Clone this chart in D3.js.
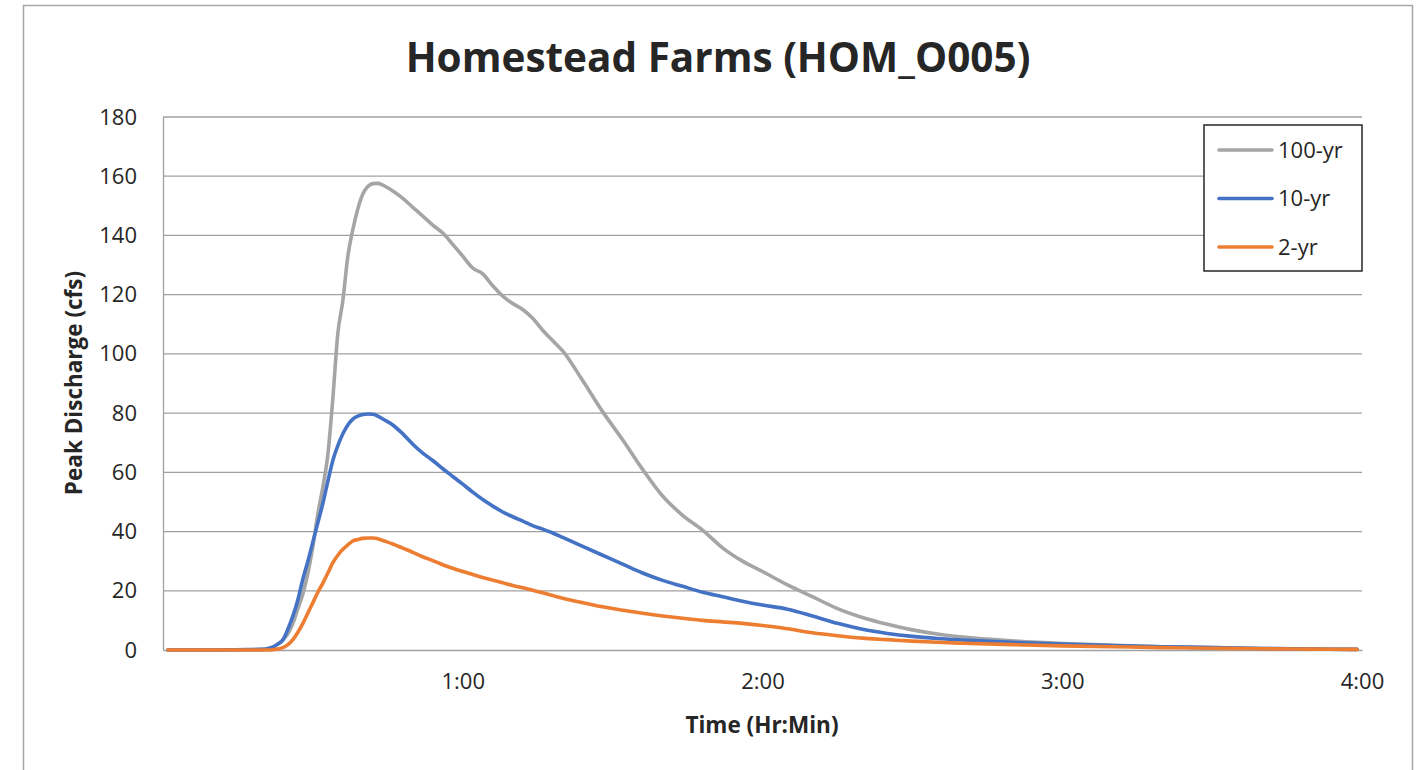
<!DOCTYPE html>
<html><head><meta charset="utf-8">
<script src="https://cdn.jsdelivr.net/npm/d3@7"></script>
<style>
html,body{margin:0;padding:0;background:#fff;}
svg{display:block;font-family:"Open Sans", Lato, sans-serif;}
</style></head>
<body>
<svg id="c" width="1421" height="770"></svg>
<script>
// ---- data (minutes after start) ----
const times = [1,10,20,21,22,23,24,25,26,27,28,29,30,31,32,33,34,35,36,37,38,39,40,41,42,43,44,
  46,48,50,52,54,56,58,60,62,64,66,68,70,72,74,76,78,80,84,88,92,96,100,104,108,112,116,120,
  125,130,135,140,145,150,155,160,170,180,190,200,210,220,230,239];
const yr100 = [0,0,0.2,0.5,1,2,3.5,5.5,9,14,19,26,35,46,55,66,85,107,118,133,142,149,154,156.5,157.5,157.6,157,
  155,152.5,149.5,146.5,143.5,140.8,137,133,129,127,123,119.5,117,115,112,108,104.5,101,91,80.5,71,61,52,45.5,40.5,34.5,30,26.5,
  22,18,14,11,8.7,6.8,5.4,4.4,3.1,2.2,1.6,1.1,0.8,0.5,0.3,0.2];
const yr10 = [0,0,0.2,0.5,1,2,3.4,7,11.5,17,24,30,36.5,43,49.5,57,64,69,73,76,78,79,79.5,79.7,79.6,79,78,
  76,73,69.5,66.5,64,61.2,58.6,56,53.3,50.8,48.6,46.6,45,43.5,42,40.8,39.5,38,35,32,29,26,23.5,21.5,19.5,18,16.5,15.2,
  13.8,11.5,9,7,5.6,4.6,3.9,3.4,2.6,2,1.5,1.1,0.8,0.5,0.3,0.2];
const yr2 = [0,0,0,0,0.1,0.3,0.8,1.8,3.5,6,9,12.5,16,19.5,22.6,26,29.5,32,34,35.5,36.8,37.3,37.7,37.8,37.8,37.6,37,
  35.8,34.4,33,31.5,30.2,28.8,27.6,26.5,25.5,24.5,23.6,22.7,21.8,21,20.2,19.3,18.4,17.5,16,14.6,13.4,12.4,11.5,10.7,10,9.5,9,8.3,
  7.2,5.8,4.8,4.0,3.5,3.0,2.6,2.3,1.8,1.4,1.1,0.8,0.6,0.4,0.3,0.2];
const seriesNames = ["100-yr","10-yr","2-yr"];
const seriesColors = ["#A5A5A5","#4472C4","#ED7D31"];
const yTicks = [0,20,40,60,80,100,120,140,160,180];
const xTicks = [60,120,180,240];
const xTickLabels = ["1:00","2:00","3:00","4:00"];
const title = "Homestead Farms (HOM_O005)";

const svg = d3.select("#c");
const L = 163, R = 1362, T = 117, B = 650;
const x = d3.scaleLinear().domain([0,240]).range([L,R]);
const y = d3.scaleLinear().domain([0,180]).range([B,T]);

// outer chart border
svg.append("rect").attr("x",23.5).attr("y",5.5).attr("width",1389).attr("height",800)
  .attr("fill","none").attr("stroke","#A6A6A6").attr("stroke-width",1.5);

// title
svg.append("text").attr("x",718).attr("y",72).attr("text-anchor","middle")
  .attr("font-size",40.5).attr("font-weight","bold").attr("fill","#262626").text(title);

// gridlines
svg.append("g").selectAll("line").data(yTicks.filter(d=>d>0)).join("line")
  .attr("x1",L).attr("x2",R).attr("y1",d=>y(d)).attr("y2",d=>y(d))
  .attr("stroke","#A0A0A0").attr("stroke-width",1.3);

// y axis
const ya = svg.append("g").attr("transform",`translate(${L},0)`)
  .call(d3.axisLeft(y).tickValues(yTicks).tickSize(0).tickPadding(26));
ya.select(".domain").attr("stroke","#A0A0A0").attr("stroke-width",1.3);
ya.selectAll("text").attr("font-size",22).attr("fill","#262626").attr("font-family","'Open Sans', Lato, sans-serif");

// x axis
const xa = svg.append("g").attr("transform",`translate(0,${B})`)
  .call(d3.axisBottom(x).tickValues(xTicks).tickFormat((d,i)=>xTickLabels[i]).tickSize(0).tickPadding(23));
xa.select(".domain").attr("stroke","#A0A0A0").attr("stroke-width",1.3);
xa.selectAll("text").attr("font-size",22).attr("fill","#262626").attr("font-family","'Open Sans', Lato, sans-serif");

// axis titles
svg.append("text").attr("x",762).attr("y",733).attr("text-anchor","middle")
  .attr("font-size",22.5).attr("font-weight","bold").attr("fill","#262626").text("Time (Hr:Min)");
svg.append("text").attr("transform","translate(82,383) rotate(-90)").attr("text-anchor","middle")
  .attr("font-size",22.5).attr("font-weight","bold").attr("fill","#262626").text("Peak Discharge (cfs)");

// lines
const line = d3.line().x((d,i)=>x(times[i])).y(d=>y(d)).curve(d3.curveMonotoneX);
const allSeries = [yr100, yr10, yr2];
allSeries.forEach((s,k)=>{
  svg.append("path").attr("d",line(s)).attr("fill","none").attr("stroke",seriesColors[k])
    .attr("stroke-width",3.6).attr("stroke-linecap","round").attr("stroke-linejoin","round");
});

// legend
const lg = svg.append("g");
lg.append("rect").attr("x",1204).attr("y",125).attr("width",158).attr("height",146)
  .attr("fill","#fff").attr("stroke","#262626").attr("stroke-width",1.5);
seriesNames.forEach((n,k)=>{
  const yy = 150 + k*48.5;
  lg.append("line").attr("x1",1219).attr("x2",1272).attr("y1",yy).attr("y2",yy)
    .attr("stroke",seriesColors[k]).attr("stroke-width",3.6).attr("stroke-linecap","round");
  lg.append("text").attr("x",1278).attr("y",yy).attr("dy","0.35em").attr("font-size",22)
    .attr("fill","#262626").text(n);
});
</script>
</body></html>
